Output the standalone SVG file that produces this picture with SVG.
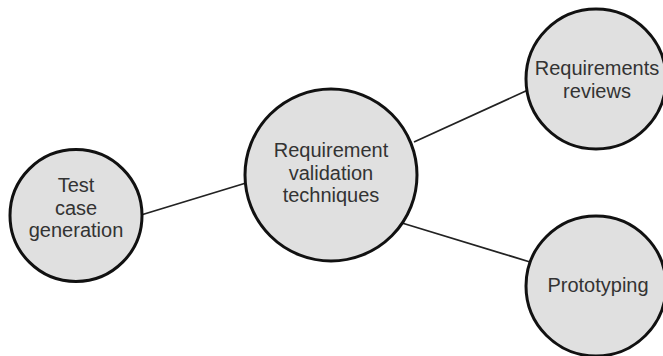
<svg xmlns="http://www.w3.org/2000/svg" width="663" height="356" viewBox="0 0 663 356">
<style>
.n{fill:#e0e0e0;stroke:#111;stroke-width:3}
.t{font-family:"Liberation Sans",Arial,sans-serif;font-size:20px;fill:#333;text-anchor:middle}
.c{stroke:#222;stroke-width:1.8;fill:none}
</style>
<rect width="663" height="356" fill="#fff"/>
<g id="connectors">
<line class="c" x1="141" y1="215" x2="246" y2="183"/>
<line class="c" x1="414" y1="142" x2="528" y2="90"/>
<line class="c" x1="402" y1="223" x2="530" y2="262"/>
</g>
<g id="test">
<circle class="n" cx="76" cy="215.5" r="66"/>
<text class="t" x="76" y="192">Test</text>
<text class="t" x="76" y="215">case</text>
<text class="t" x="76" y="237">generation</text>
</g>
<g id="center">
<circle class="n" cx="331" cy="175" r="86"/>
<text class="t" x="331" y="157">Requirement</text>
<text class="t" x="331" y="180">validation</text>
<text class="t" x="331" y="202">techniques</text>
</g>
<g id="reviews">
<circle class="n" cx="596" cy="79" r="70"/>
<text class="t" x="597" y="75">Requirements</text>
<text class="t" x="597" y="98">reviews</text>
</g>
<g id="proto">
<circle class="n" cx="596" cy="286" r="70"/>
<text class="t" x="598" y="292">Prototyping</text>
</g>
</svg>
